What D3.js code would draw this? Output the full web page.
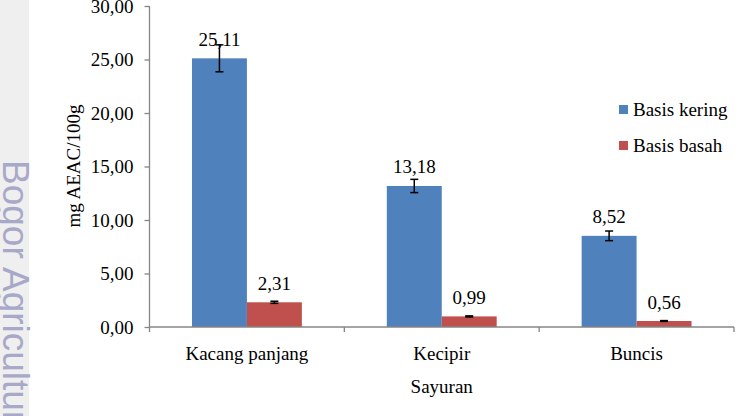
<!DOCTYPE html>
<html>
<head>
<meta charset="utf-8">
<script src="https://cdn.jsdelivr.net/npm/d3@7"></script>
<style>
  html, body { margin: 0; padding: 0; background: #ffffff; }
  svg { display: block; }
</style>
</head>
<body>
<svg id="chart" width="742" height="416"></svg>
<script>
// ---- data ----
const categories = ["Kacang panjang", "Kecipir", "Buncis"];
const seriesNames = ["Basis kering", "Basis basah"];
const basisKering = [25.11, 13.18, 8.52];
const basisBasah = [2.31, 0.99, 0.56];
const errKering = [1.26, 0.62, 0.45];
const errBasah = [0.10, 0.05, 0.04];
const yTicks = [0, 5, 10, 15, 20, 25, 30];
const yTitle = "mg AEAC/100g";
const xTitle = "Sayuran";
const watermark = "Bogor Agricultural University";

(function () {
const seriesValues = [basisKering, basisBasah];
const seriesErrors = [errKering, errBasah];
const colors = ["#4f81bd", "#c0504d"];
const SERIF = "'Liberation Serif', 'Times New Roman', Tinos, 'DejaVu Serif', serif";

const svg = d3.select("#chart");
const W = 742, H = 416;

// watermark band
svg.append("rect").attr("x", 0).attr("y", 0).attr("width", 29).attr("height", H).attr("fill", "#efefef");
svg.append("text")
  .attr("transform", "translate(3,160) rotate(90)")
  .style("font-family", "'Liberation Sans', Arial, sans-serif")
  .style("font-size", "37px")
  .style("fill", "#a8a8c8")
  .text(watermark);

const pL = 149.5, pR = 734, pT = 6, pB = 327;

const x = d3.scaleBand().domain(categories).range([pL, pR]).paddingInner(0).paddingOuter(0);
const bw = x.bandwidth();
const xs = d3.scaleBand().domain(seriesNames).range([0.218 * bw, 0.782 * bw]).padding(0);
const y = d3.scaleLinear().domain([0, 30]).range([pB, pT]);

const axisColor = "#868686";
const fontSize = "19px";

function serifText(sel) {
  return sel.attr("font-family", SERIF).style("font-family", SERIF).style("font-size", fontSize).style("fill", "#000");
}

// y axis
const yAxis = d3.axisLeft(y).tickValues(yTicks).tickSize(5).tickPadding(11)
  .tickFormat(d => d3.format(".2f")(d).replace(".", ","));
const gy = svg.append("g").attr("transform", `translate(${pL},0)`).call(yAxis);
gy.attr("font-family", SERIF);
gy.select(".domain").attr("stroke", axisColor).attr("stroke-width", 1.3).attr("d", `M0,${pT}V${pB}`);
gy.selectAll(".tick line").attr("stroke", axisColor).attr("stroke-width", 1.3);
serifText(gy.selectAll(".tick text"));

// bars
categories.forEach((c, ci) => {
  seriesNames.forEach((s, si) => {
    const v = seriesValues[si][ci];
    const e = seriesErrors[si][ci];
    const bx = x(c) + xs(s);
    const w = xs.bandwidth();
    svg.append("rect")
      .attr("x", bx).attr("y", y(v))
      .attr("width", w).attr("height", y(0) - y(v))
      .attr("fill", colors[si]);
    const cx = bx + w / 2;
    const g = svg.append("g").attr("stroke", "#000").attr("stroke-width", 1.5);
    g.append("line").attr("x1", cx).attr("x2", cx).attr("y1", y(v + e)).attr("y2", y(v - e));
    g.append("line").attr("x1", cx - 4).attr("x2", cx + 4).attr("y1", y(v + e)).attr("y2", y(v + e));
    g.append("line").attr("x1", cx - 4).attr("x2", cx + 4).attr("y1", y(v - e)).attr("y2", y(v - e));
    serifText(svg.append("text"))
      .attr("x", cx).attr("y", y(v) - 12.5)
      .attr("text-anchor", "middle")
      .text(d3.format(".2f")(v).replace(".", ","));
  });
});

// x axis
const gx = svg.append("g").attr("transform", `translate(0,${pB})`);
gx.append("line").attr("x1", pL).attr("x2", pR).attr("y1", 0).attr("y2", 0)
  .attr("stroke", axisColor).attr("stroke-width", 1.3);
const boundaries = categories.map(c => x(c)).concat([x(categories[categories.length - 1]) + bw]);
boundaries.forEach(b => {
  gx.append("line").attr("x1", b).attr("x2", b).attr("y1", 0).attr("y2", 5)
    .attr("stroke", axisColor).attr("stroke-width", 1.3);
});
categories.forEach(c => {
  serifText(gx.append("text")).attr("x", x(c) + bw / 2).attr("y", 33)
    .attr("text-anchor", "middle").text(c);
});

// axis titles
serifText(svg.append("text")).attr("x", (pL + pR) / 2).attr("y", 393)
  .attr("text-anchor", "middle").text(xTitle);
serifText(svg.append("text")).attr("transform", `translate(80,166) rotate(-90)`)
  .attr("text-anchor", "middle").text(yTitle);

// legend
const legY = [105, 141];
seriesNames.forEach((s, i) => {
  svg.append("rect").attr("x", 619).attr("y", legY[i]).attr("width", 9).attr("height", 9).attr("fill", colors[i]);
  serifText(svg.append("text")).attr("x", 633).attr("y", legY[i] + 11).text(s);
});
})();
</script>
</body>
</html>
